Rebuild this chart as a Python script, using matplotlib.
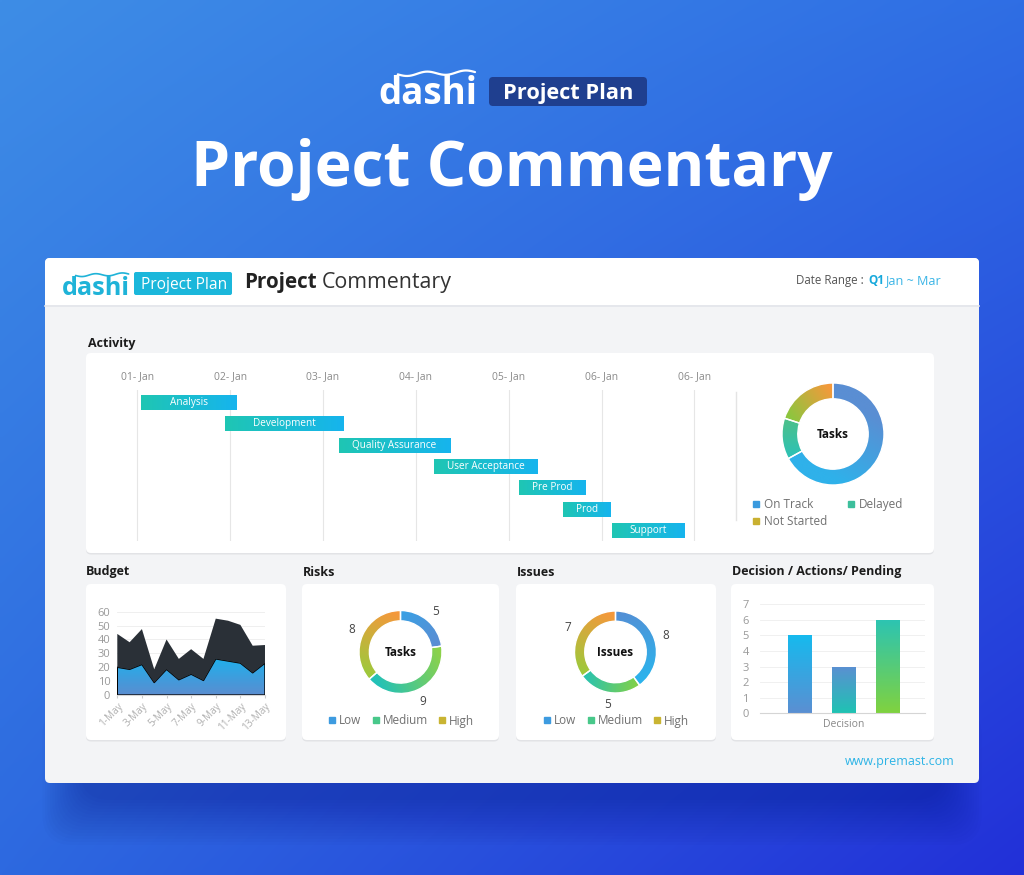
import numpy as np
import matplotlib
matplotlib.use("Agg")
import matplotlib.pyplot as plt
from matplotlib.patches import FancyBboxPatch, Rectangle
from matplotlib.lines import Line2D
from matplotlib.colors import to_rgb

plt.rcParams['font.family'] = ['Open Sans', 'DejaVu Sans']

# ---------------- data ----------------
gantt_tasks = ["Analysis", "Development", "Quality Assurance", "User Acceptance",
               "Pre Prod", "Prod", "Support"]
gantt_start = [0.04, 0.95, 2.17, 3.20, 4.11, 4.59, 5.11]
gantt_end = [1.07, 2.23, 3.37, 4.31, 4.83, 5.10, 5.89]
gantt_ticks = ["01- Jan", "02- Jan", "03- Jan", "04- Jan", "05- Jan", "06- Jan", "06- Jan"]

task_labels = ["On Track", "Delayed", "Not Started"]
task_values = [67, 13, 20]

budget_days = ["1-May", "2-May", "3-May", "4-May", "5-May", "6-May", "7-May",
               "8-May", "9-May", "10-May", "11-May", "12-May", "13-May"]
budget_series_a = [20, 18.5, 22, 9, 18.5, 11, 15, 10.5, 26, 24.5, 23, 16, 23]
budget_series_b = [24, 19.5, 25.5, 9.5, 21.5, 15, 18, 15.5, 29, 29, 27.5, 19.5, 13]

risk_labels = ["Low", "Medium", "High"]
risk_values = [5, 9, 8]
issue_labels = ["Low", "Medium", "High"]
issue_values = [8, 5, 7]

decision_group = ["Decision"]
decision_series = ["Decision", "Actions", "Pending"]
decision_values = [5, 3, 6]

# ---------------- figure ----------------
W, H = 1024, 875
fig = plt.figure(figsize=(W / 100, H / 100), dpi=100)
renderer = fig.canvas.get_renderer()


def rect(x0, y0, x1, y1):
    return [x0 / W, 1 - y1 / H, (x1 - x0) / W, (y1 - y0) / H]


def fit_text(ax, x, y, s, width, **kw):
    t = ax.text(x, y, s, **kw)
    bb = t.get_window_extent(renderer=renderer)
    if bb.width > 0:
        t.set_fontsize(t.get_fontsize() * width / bb.width)
    return t


def lerp_cols(c0, c1, n=256):
    t = np.linspace(0, 1, n)[:, None]
    return (1 - t) * np.array(to_rgb(c0)) + t * np.array(to_rgb(c1))


def grad_fill(ax, patch, c0, c1, extent, horizontal=False, clip_path=None):
    xl, yl = ax.get_xlim(), ax.get_ylim()
    cols = lerp_cols(c0, c1)
    img = cols[None, :, :] if horizontal else cols[:, None, :]
    im = ax.imshow(img, extent=extent, aspect='auto', origin='upper',
                   interpolation='bilinear', zorder=1.9)
    if clip_path is not None:
        im.set_clip_path(clip_path, ax.transData)
    else:
        im.set_clip_path(patch)
    ax.set_xlim(xl)
    ax.set_ylim(yl)
    return im


# background
bg = fig.add_axes([0, 0, 1, 1])
bg.set_xlim(0, W)
bg.set_ylim(H, 0)
bg.axis('off')
X, Y = np.meshgrid(np.linspace(0, 1, 256), np.linspace(0, 1, 220))
tl, tr, bl, br = [np.array(to_rgb(c)) for c in ('#3e8de6', '#2f6ee4', '#2d69e0', '#2230d8')]
bgimg = (tl * ((1 - X) * (1 - Y))[..., None] + tr * (X * (1 - Y))[..., None]
         + bl * ((1 - X) * Y)[..., None] + br * (X * Y)[..., None])
bg.imshow(bgimg, extent=(0, W, H, 0), aspect='auto', zorder=0, interpolation='bilinear')

# card shadow (soft)
for k in range(16):
    bg.add_patch(FancyBboxPatch((80 - k * 2.5, 720 - k), 864 + k * 5, 80 + k * 4,
                                boxstyle='round,pad=0,rounding_size=30',
                                fc='#0c1680', ec='none', alpha=0.022, zorder=0.5))

# card
bg.add_patch(FancyBboxPatch((45, 258), 934, 525, boxstyle='round,pad=0,rounding_size=5',
                            fc='#f3f4f6', ec='none', zorder=1))
bg.add_patch(FancyBboxPatch((45, 258), 934, 47, boxstyle='round,pad=0,rounding_size=5',
                            fc='white', ec='none', zorder=1.1))
bg.add_patch(Rectangle((45, 290), 934, 15, fc='white', ec='none', zorder=1.1))
bg.plot([45, 979], [305.5, 305.5], color='#e3e5ea', lw=1.2, zorder=1.2)

panels = [(86, 353, 934, 553), (86, 584, 286, 740), (302, 584, 499, 740),
          (516, 584, 716, 740), (731, 584, 934, 740)]
for x0, y0, x1, y1 in panels:
    bg.add_patch(FancyBboxPatch((x0, y0 + 1.5), x1 - x0, y1 - y0,
                                boxstyle='round,pad=0,rounding_size=5',
                                fc='#e2e3e6', ec='none', zorder=1.5))
    bg.add_patch(FancyBboxPatch((x0, y0), x1 - x0, y1 - y0,
                                boxstyle='round,pad=0,rounding_size=5',
                                fc='white', ec='none', zorder=1.6))

# section titles
for (x, y, s) in [(88, 343, "Activity"), (86, 572, "Budget"), (303, 572, "Risks"),
                  (517, 572, "Issues"), (732, 572, "Decision / Actions/ Pending")]:
    bg.text(x, y, s, fontsize=9, fontweight='bold', color='#1c1c1c', va='center', zorder=3)

bg.plot([736, 736], [392, 520], color='#e4e4e4', lw=1, zorder=2)


# logos
def logo(x, baseline, width, color, lw):
    t = fit_text(bg, x, baseline, "dashi", width, fontsize=20, fontweight='bold',
                 color=color, va='baseline', zorder=3)
    bb = t.get_window_extent(renderer=renderer)
    h = bb.height
    xs = np.linspace(x + 0.2 * width, x + 0.98 * width, 40)
    ys = baseline - 0.78 * h + 0.05 * h * np.sin(np.linspace(0, 4 * np.pi, 40)) \
        - 0.06 * h * np.linspace(0, 1, 40)
    bg.plot(xs, ys, color=color, lw=lw, zorder=3, solid_capstyle='round')
    return t


logo(378, 104, 99, 'white', 1.6)
bg.add_patch(FancyBboxPatch((489, 77), 158, 29, boxstyle='round,pad=0,rounding_size=4',
                            fc='#1f3f8f', ec='none', zorder=2))
fit_text(bg, 568, 99, "Project Plan", 131, fontsize=14, fontweight='bold', color='white',
         ha='center', va='baseline', zorder=3)
fit_text(bg, 512, 186, "Project Commentary", 641, fontsize=40, fontweight='bold',
         color='white', ha='center', va='baseline', zorder=3)

logo(62, 295, 68, '#1fb3d8', 1.2)
bg.add_patch(FancyBboxPatch((134, 272), 98, 23, boxstyle='round,pad=0,rounding_size=2',
                            fc='#1bb7db', ec='none', zorder=2))
fit_text(bg, 141, 289, "Project Plan", 86, fontsize=10, color='white', va='baseline', zorder=3)
fit_text(bg, 244, 288, "Project", 73, fontsize=14, fontweight='bold', color='#222222',
         va='baseline', zorder=3)
fit_text(bg, 322, 288, "Commentary", 131, fontsize=14, color='#333333', va='baseline', zorder=3)
fit_text(bg, 796, 284, "Date Range :", 68, fontsize=8, color='#555555', va='baseline', zorder=3)
bg.text(868, 284, "Q1", fontsize=8.5, fontweight='bold', color='#17a9dc',
        va='baseline', zorder=3)
fit_text(bg, 885, 284, "Jan ~ Mar", 56, fontsize=8, color='#3bb5e6', va='baseline', zorder=3)
fit_text(bg, 845, 765, "www.premast.com", 110, fontsize=8.5, color='#2db4e6',
         va='baseline', zorder=3)

# ---------------- Gantt ----------------
ax_g = fig.add_axes(rect(100, 390, 730, 541))
ax_g.set_facecolor('none')
ax_g.set_xlim(-0.4006, 6.383)
ax_g.set_ylim(6.493, -0.586)
for v in range(len(gantt_ticks)):
    ax_g.axvline(v, color='#e6e6e6', lw=0.8, zorder=1)
ax_g.set_xticks(range(len(gantt_ticks)))
ax_g.set_xticklabels(gantt_ticks)
ax_g.xaxis.tick_top()
ax_g.tick_params(axis='x', length=0, pad=6, labelsize=7.5, labelcolor='#8a8a8a')
ax_g.set_yticks([])
for sp in ax_g.spines.values():
    sp.set_visible(False)
durations = [e - s for s, e in zip(gantt_start, gantt_end)]
bars = ax_g.barh(range(len(gantt_tasks)), durations, left=gantt_start, height=0.7, zorder=2)
for i, b in enumerate(bars):
    x0, y0, w, h = b.get_x(), b.get_y(), b.get_width(), b.get_height()
    grad_fill(ax_g, b, '#1fc6b3', '#16b4ee', (x0, x0 + w, y0 + h, y0), horizontal=True)
    b.set_facecolor('none')
    ax_g.text(x0 + w / 2, i, gantt_tasks[i], ha='center', va='center', color='white',
              fontsize=7.2, zorder=4)


# ---------------- donuts ----------------
def donut(cx, cy, r, half, width, values, grads, center, labels=None):
    ax = fig.add_axes(rect(cx - half, cy - half, cx + half, cy + half))
    ax.set_facecolor('none')
    kw = {}
    if labels is not None:
        kw = dict(labels=labels, labeldistance=1.3,
                  textprops=dict(fontsize=8.5, color='#444444'))
    res = ax.pie(values, startangle=90, counterclock=False,
                 wedgeprops=dict(width=width, edgecolor='white', linewidth=1), **kw)
    wedges = res[0]
    L = half / r
    ax.set_xlim(-L, L)
    ax.set_ylim(-L, L)
    ax.set_aspect('equal')
    ax.axis('off')
    N = 300
    gx, gy = np.meshgrid(np.linspace(-1, 1, N), np.linspace(1, -1, N))
    rm = 1 - width / 2
    for wdg, (c0, c1) in zip(wedges, grads):
        a0, a1 = np.deg2rad(wdg.theta2), np.deg2rad(wdg.theta1)
        p0 = np.array([rm * np.cos(a0), rm * np.sin(a0)])
        p1 = np.array([rm * np.cos(a1), rm * np.sin(a1)])
        d = p1 - p0
        s = ((gx - p0[0]) * d[0] + (gy - p0[1]) * d[1]) / (d @ d)
        s = np.clip(s, 0, 1)[..., None]
        img = (1 - s) * np.array(to_rgb(c0)) + s * np.array(to_rgb(c1))
        im = ax.imshow(img, extent=(-1, 1, -1, 1), origin='upper', interpolation='bilinear',
                       zorder=wdg.get_zorder() - 0.01)
        im.set_clip_path(wdg)
        wdg.set_facecolor('none')
    ax.set_xlim(-L, L)
    ax.set_ylim(-L, L)
    if labels is not None:
        for t in res[1]:
            t.set_ha('center')
            t.set_va('center')
    ax.text(0, 0, center, ha='center', va='center', fontsize=8.5, fontweight='bold',
            color='#111111')
    return ax


donut(833, 434, 51, 65, 0.31, task_values,
      [('#5a8ed3', '#2fb1ea'), ('#2ec2b4', '#4cc08c'), ('#8cc63f', '#f5993b')], "Tasks")
donut(400.5, 652, 41.5, 70, 0.25, risk_values,
      [('#3aa0e4', '#5b8dd3'), ('#8cd24a', '#22c1b8'), ('#9fc83b', '#f5983c')], "Tasks",
      labels=[str(v) for v in risk_values])
donut(615.5, 652, 41, 70, 0.25, issue_values,
      [('#5290d6', '#2cb3ec'), ('#80d04a', '#2bc3ae'), ('#9fc83b', '#f5983c')], "Issues",
      labels=[str(v) for v in issue_values])


def sq(c):
    return Line2D([], [], marker='s', ls='', color=c, markersize=4)


task_cols = ['#3a9ade', '#3dbf9c', '#c9b030']
order = [0, 2, 1]
fig.legend([sq(task_cols[i]) for i in order], [task_labels[i] for i in order], ncol=2,
           loc='upper left', bbox_to_anchor=(751 / W, 1 - 498 / H), frameon=False,
           fontsize=8.5, labelcolor='#707070', handlelength=0.8, handletextpad=0.3,
           columnspacing=1.6, labelspacing=0.35, borderpad=0, borderaxespad=0)
lvl_cols = ['#3d9be0', '#48c88a', '#c9b432']
for cx, labs in [(401, risk_labels), (616, issue_labels)]:
    fig.legend([sq(c) for c in lvl_cols], labs, ncol=3, loc='center',
               bbox_to_anchor=(cx / W, 1 - 721 / H), frameon=False, fontsize=8.5,
               labelcolor='#707070', handlelength=0.8, handletextpad=0.2,
               columnspacing=0.8, borderpad=0, borderaxespad=0)

# ---------------- Budget ----------------
ax_b = fig.add_axes(rect(117.3, 611.7, 265, 695))
ax_b.set_facecolor('none')
xb = np.arange(len(budget_days))
st = ax_b.stackplot(xb, budget_series_a, budget_series_b,
                    colors=['#29a8e8', '#2a3037'], zorder=2)
ax_b.set_xlim(0, len(budget_days) - 1)
ax_b.set_ylim(0, 60)
grad_fill(ax_b, None, '#1fb0ec', '#5a8dd0', (0, len(budget_days) - 1, 0, max(budget_series_a)),
          clip_path=st[0].get_paths()[0])
st[0].set_facecolor('none')
ax_b.set_yticks(range(0, 61, 10))
ax_b.set_xticks(xb[::2])
ax_b.set_xticklabels(budget_days[::2], rotation=45, ha='right', rotation_mode='anchor')
ax_b.grid(axis='y', color='#ececec', lw=0.6, zorder=0)
ax_b.set_axisbelow(True)
for k in ('left', 'top', 'right'):
    ax_b.spines[k].set_visible(False)
ax_b.spines['bottom'].set_color('#d5d5d5')
ax_b.tick_params(axis='y', length=0, pad=5, labelsize=8, labelcolor='#999999')
ax_b.tick_params(axis='x', length=2, color='#cccccc', pad=2, labelsize=7.2,
                 labelcolor='#b0b0b0')

# ---------------- Decision ----------------
ax_d = fig.add_axes(rect(760, 604.3, 925, 713.3))
ax_d.set_facecolor('none')
ax_d.set_xlim(-1.909, 1.863)
ax_d.set_ylim(0, 7)
pos = [(i - (len(decision_series) - 1) / 2) for i in range(len(decision_series))]
dbars = ax_d.bar(pos, decision_values, width=0.526, zorder=2)
dgr = [('#16baee', '#5b8fd2'), ('#5b8fd2', '#1fc3b3'), ('#2cc4b3', '#80d23f')]
for b, (c0, c1) in zip(dbars, dgr):
    x0, w, h = b.get_x(), b.get_width(), b.get_height()
    grad_fill(ax_d, b, c0, c1, (x0, x0 + w, 0, h))
    b.set_facecolor('none')
    b.set_edgecolor('none')
ax_d.set_yticks(range(0, 8))
ax_d.set_xticks([0])
ax_d.set_xticklabels(decision_group)
ax_d.grid(axis='y', color='#eeeeee', lw=0.6, zorder=0)
ax_d.set_axisbelow(True)
for k in ('left', 'top', 'right'):
    ax_d.spines[k].set_visible(False)
ax_d.spines['bottom'].set_color('#d5d5d5')
ax_d.tick_params(axis='y', length=0, pad=8, labelsize=8, labelcolor='#999999')
ax_d.tick_params(axis='x', length=0, pad=4, labelsize=7.5, labelcolor='#888888')

fig.savefig("out.png", dpi=100)
